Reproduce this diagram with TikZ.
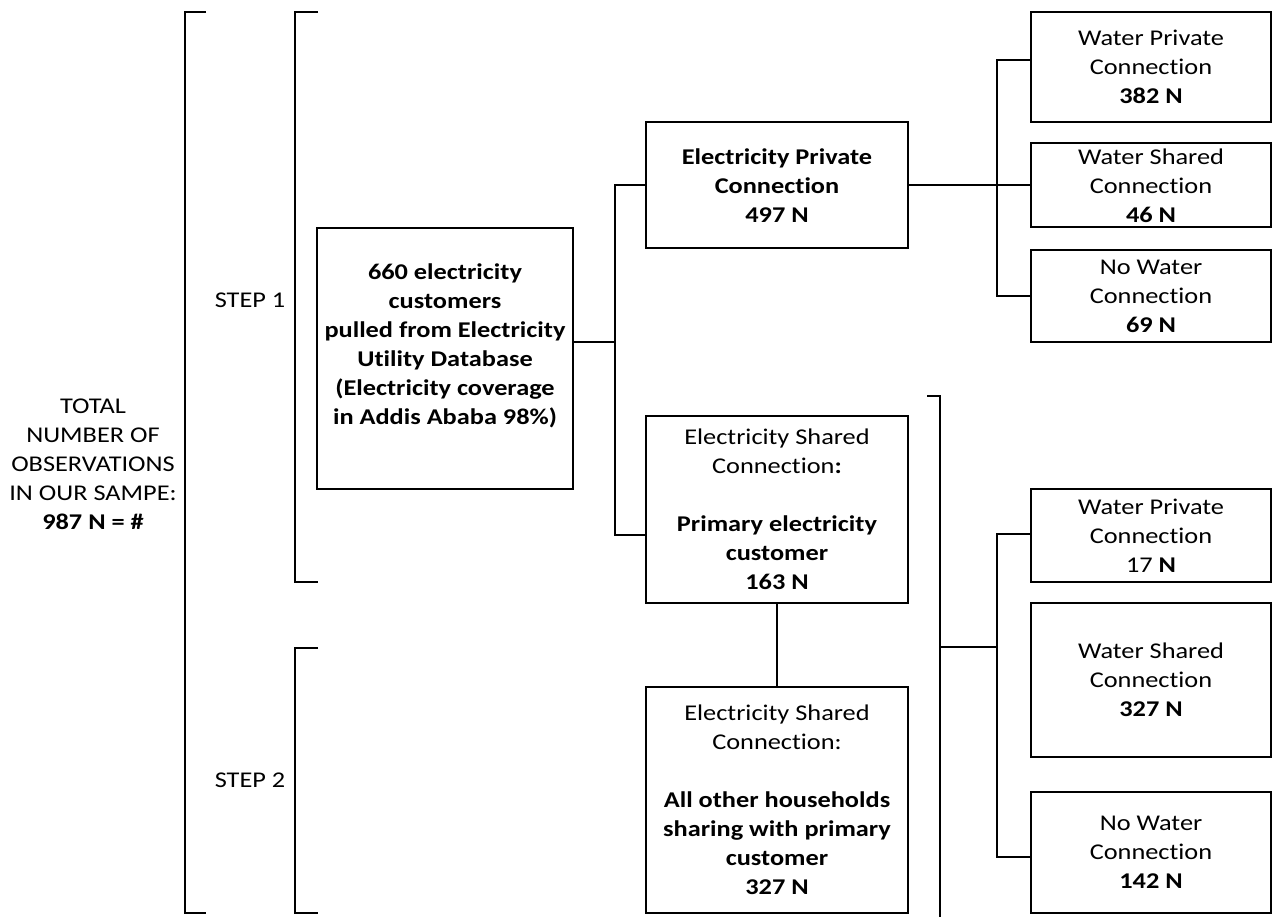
\documentclass[tikz,border=0pt]{standalone}
\usepackage{fontspec}
\setmainfont{Carlito}[FakeStretch=1.17, Ligatures=NoCommon]
\usetikzlibrary{positioning}
\tikzstyle{box}=[draw, line width=2pt, align=center, inner sep=0pt,
  font=\fontsize{22.5}{29}\selectfont]
\tikzstyle{ebox}=[box, minimum width=262pt]
\tikzstyle{wbox}=[box, minimum width=240pt]
\tikzstyle{txt}=[align=center, font=\fontsize{22.5}{29}\selectfont]
\tikzstyle{link}=[line width=2pt]

\begin{document}
\begin{tikzpicture}[x=1pt, y=-1pt, line join=miter]
  \useasboundingbox (0,0) rectangle (1274,917);

  % left side
  \node[txt] (total) at (93,464) {TOTAL\\ NUMBER OF\\ OBSERVATIONS\\ IN OUR SAMPE:\\ \textbf{987 N = \#}};
  \node[txt] (step1) at (250,300) {STEP 1};
  \node[txt] (step2) at (250,780) {STEP 2};

  \draw[link] (206,12) -- (185,12) -- (185,913) -- (206,913);
  \draw[link] (318,12) -- (295,12) -- (295,582) -- (318,582);
  \draw[link] (318,648) -- (295,648) -- (295,913) -- (318,913);

  % electricity boxes
  \node[box, font=\fontsize{22.5}{29}\selectfont\bfseries, minimum width=256pt, minimum height=261pt]
    (root) at (445,358.5) {660 electricity\\ customers\\ pulled from Electricity\\ Utility Database\\ (Electricity coverage\\ in Addis Ababa 98\%)\\ \mbox{}};
  \node[ebox, minimum height=126pt] (ep) at (777,185.5) {\textbf{Electricity Private}\\ \textbf{Connection}\\ \textbf{497 N}};
  \node[ebox, minimum height=187pt] (es1) at (777,509.5) {Electricity Shared\\ Connection\textbf{:}\\ \mbox{}\\ \textbf{Primary electricity}\\ \textbf{customer}\\ \textbf{163 N}};
  \node[ebox, minimum height=226pt] (es2) at (777,800) {Electricity Shared\\ Connection:\\ \mbox{}\\ \textbf{All other households}\\ \textbf{sharing with primary}\\ \textbf{customer}\\ \textbf{327 N}};

  % water boxes
  \node[wbox, minimum height=110pt] (wp1) at (1151,67) {Water Private\\ Connection\\ \textbf{382 N}};
  \node[wbox, minimum height=84pt] (ws1) at (1151,185.5) {Water Shared\\ Connection\\ \textbf{46 N}};
  \node[wbox, minimum height=92pt] (nw1) at (1151,296) {No Water\\ Connection\\ \textbf{69 N}};
  \node[wbox, minimum height=93pt] (wp2) at (1151,535.5) {Water Private\\ Connection\\ 17 \textbf{N}};
  \node[wbox, minimum height=154pt] (ws2) at (1151,680) {Water Shared\\ Connection\\ \textbf{327 N}};
  \node[wbox, minimum height=121pt] (nw2) at (1151,852.5) {No Water\\ Connection\\ \textbf{142 N}};

  % connectors
  \coordinate (t1) at (615,342);
  \coordinate (t2) at (997,185.5);
  \coordinate (b1) at (940,647);
  \coordinate (t3) at (997,647);

  \draw[link] (root.east |- t1) -- (t1);
  \draw[link] (ep.west) -| (t1) |- ([yshift=-25.5pt]es1.west);
  \draw[link] (es1) -- (es2);

  \draw[link] (ep.east) -- (ws1.west);
  \draw[link] ([yshift=7pt]wp1.west) -| (t2) |- (nw1.west);

  \draw[link] (927,396) -- (940,396) -- (940,917);
  \draw[link] (b1) -- (t3);
  \draw[link] ([yshift=1.5pt]wp2.west) -| (t3) |- ([yshift=-4.5pt]nw2.west);
\end{tikzpicture}
\end{document}
